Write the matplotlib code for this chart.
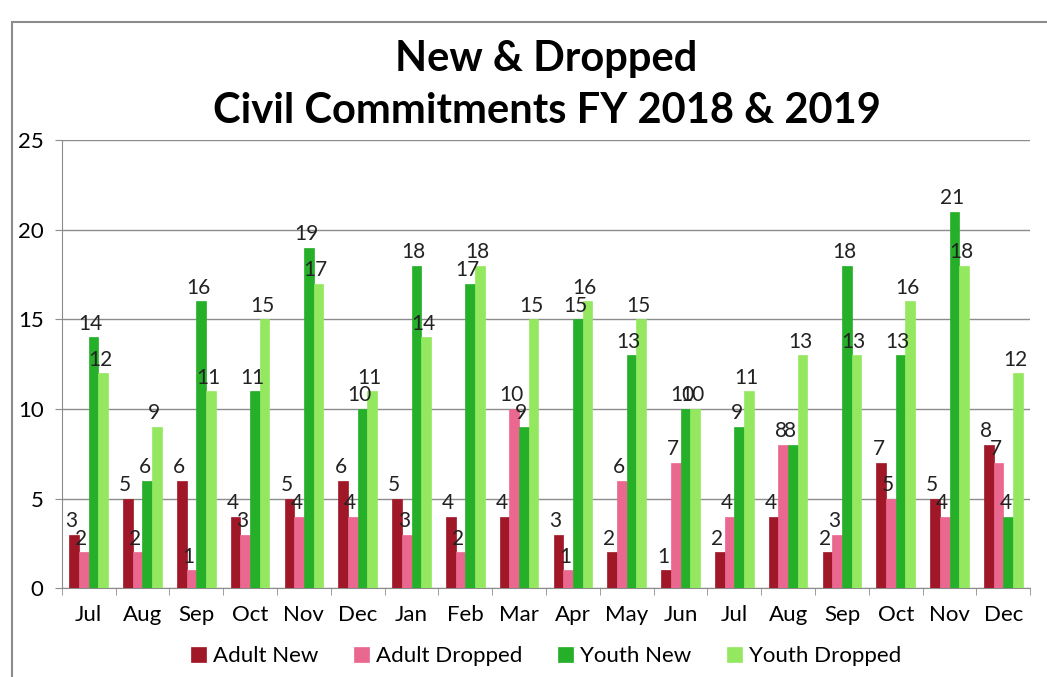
import numpy as np
import matplotlib.pyplot as plt
from matplotlib.patches import Rectangle

months = ["Jul", "Aug", "Sep", "Oct", "Nov", "Dec", "Jan", "Feb", "Mar",
          "Apr", "May", "Jun", "Jul", "Aug", "Sep", "Oct", "Nov", "Dec"]
adult_new = [3, 5, 6, 4, 5, 6, 5, 4, 4, 3, 2, 1, 2, 4, 2, 7, 5, 8]
adult_dropped = [2, 2, 1, 3, 4, 4, 3, 2, 10, 1, 6, 7, 4, 8, 3, 5, 4, 7]
youth_new = [14, 6, 16, 11, 19, 10, 18, 17, 9, 15, 13, 10, 9, 8, 18, 13, 21, 4]
youth_dropped = [12, 9, 11, 15, 17, 11, 14, 18, 15, 16, 15, 10, 11, 13, 13, 16, 18, 12]

series = [
    ("Adult New", adult_new, "#a01828"),
    ("Adult Dropped", adult_dropped, "#ea6890"),
    ("Youth New", youth_new, "#26b02a"),
    ("Youth Dropped", youth_dropped, "#94e860"),
]

plt.rcParams['font.family'] = ['Lato', 'DejaVu Sans']

fig = plt.figure(figsize=(10.47, 6.77), dpi=100)
ax = fig.add_axes([0.059, 0.131, 0.925, 0.662])

# cadre extérieur du graphique
fig.patches.append(Rectangle((12 / 1047, -0.1), 1.2, 1 - 22 / 677 + 0.1,
                             transform=fig.transFigure, fill=False,
                             edgecolor="#8c8c8c", linewidth=1.5))

x = np.arange(len(months))
w = 0.18
offsets = [-1.5 * w, -0.5 * w, 0.5 * w, 1.5 * w]
for (name, vals, col), off in zip(series, offsets):
    bars = ax.bar(x + off, vals, w, color=col, label=name,
                  edgecolor=col, linewidth=0.5, zorder=3)
    for b, v in zip(bars, vals):
        ax.text(b.get_x() + b.get_width() / 2 - 0.05, v + 0.2, str(v),
                ha="center", va="bottom", fontsize=15, color="#222222", zorder=4)

ax.set_xlim(-0.5, len(months) - 0.5)
ax.set_ylim(0, 25)
ax.set_yticks([0, 5, 10, 15, 20, 25])
ax.set_xticks(x)
ax.set_xticklabels(months)
ax.set_xticks(np.arange(-0.5, len(months), 1), minor=True)
ax.tick_params(axis="x", which="major", length=0, labelsize=16, pad=12)
ax.tick_params(axis="x", which="minor", length=5, color="#8c8c8c", direction="out")
ax.tick_params(axis="y", length=5, color="#8c8c8c", labelsize=16, pad=8)
ax.grid(axis="y", color="#8c8c8c", linewidth=1, zorder=0)
for s in ["top", "right"]:
    ax.spines[s].set_visible(False)
ax.spines["left"].set_color("#8c8c8c")
ax.spines["bottom"].set_color("#8c8c8c")

fig.text(0.522, 0.874, "New & Dropped\nCivil Commitments FY 2018 & 2019",
         ha="center", va="center", fontsize=30, fontweight="bold",
         linespacing=1.45)

ax.legend(loc="upper center", bbox_to_anchor=(0.5, -0.085), ncol=4,
          frameon=False, fontsize=16, handlelength=0.7, handleheight=0.7,
          handletextpad=0.3, columnspacing=1.6)

plt.savefig("out.png", dpi=100)
